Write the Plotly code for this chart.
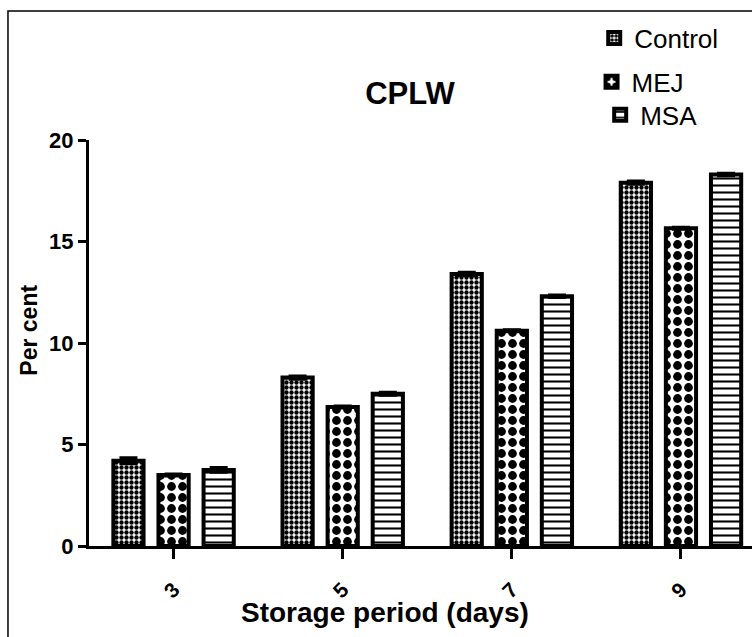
import plotly.graph_objects as go

categories = ["3", "5", "7", "9"]
control = [4.2, 8.3, 13.4, 17.9]
mej = [3.5, 6.85, 10.6, 15.65]
msa = [3.75, 7.5, 12.3, 18.3]
control_err = [0.15, 0.08, 0.08, 0.08]
mej_err = [0.05, 0.05, 0.05, 0.05]
msa_err = [0.12, 0.07, 0.06, 0.06]

FONT = "Arial, Liberation Sans, sans-serif"

series = [
    ("Control", control, control_err, dict(shape=".", size=5, solidity=0.6), "legend"),
    ("MEJ", mej, mej_err, dict(shape=".", size=11, solidity=0.5), "legend2"),
    ("MSA", msa, msa_err, dict(shape="-", size=7, solidity=0.3), "legend3"),
]

fig = go.Figure()
for name, vals, errs, pat, leg in series:
    fig.add_trace(go.Bar(
        name=name, x=categories, y=vals, showlegend=True,
        marker=dict(color="white",
                    line=dict(color="black", width=4),
                    pattern=dict(fgcolor="black", bgcolor="white", fillmode="replace", **pat)),
        error_y=dict(type="data", array=errs, visible=True, color="black", thickness=3, width=9),
        legend=leg,
    ))

def leg(x, y):
    return dict(x=x, y=y, xanchor="left", yanchor="middle", xref="paper", yref="paper",
                bgcolor="rgba(0,0,0,0)", font=dict(family=FONT, size=26, color="black"),
                itemwidth=30)

fig.update_layout(
    width=752, height=637,
    margin=dict(l=89, r=0, t=140, b=91),
    paper_bgcolor="white", plot_bgcolor="white",
    showlegend=True,
    barmode="group", bargap=0.2, bargroupgap=0.33,
    font=dict(family=FONT, color="black"),
    title=dict(text="<b>CPLW</b>", x=410 / 752, y=1 - 93 / 637, xanchor="center", yanchor="middle",
               font=dict(family=FONT, size=31, color="black")),
    legend=leg(0.762, 1.251),
    legend2=leg(0.758, 1.143),
    legend3=leg(0.771, 1.062),
    xaxis=dict(type="category", range=[-0.5, 3.42], showgrid=False, zeroline=False,
               showline=True, linecolor="black", linewidth=3,
               ticks="outside", ticklen=10, tickwidth=3, tickcolor="black",
               ticklabelstandoff=10,
               tickangle=-45, tickfont=dict(family=FONT, size=21, color="black", weight="bold")),
    yaxis=dict(range=[0, 20], tickvals=[0, 5, 10, 15, 20], showgrid=False, zeroline=False,
               showline=True, linecolor="black", linewidth=3,
               ticks="outside", ticklen=8, tickwidth=3, tickcolor="black",
               tickfont=dict(family=FONT, size=22, color="black", weight="bold")),
    annotations=[
        dict(text="<b>Per cent</b>", xref="paper", yref="paper", x=-0.091, y=0.532,
             textangle=-90, showarrow=False, xanchor="center", yanchor="middle",
             font=dict(family=FONT, size=23, color="black")),
        dict(text="<b>Storage period (days)</b>", xref="paper", yref="paper", x=0.4465, y=-0.165,
             showarrow=False, xanchor="center", yanchor="middle",
             font=dict(family=FONT, size=28, color="black")),
    ],
    shapes=[
        dict(type="rect", xref="paper", yref="paper", x0=-0.1222, x1=1.05, y0=-0.24, y1=1.3177,
             line=dict(color="black", width=1.5), fillcolor="rgba(0,0,0,0)", layer="below"),
    ],
)

fig.write_html("out.html")
